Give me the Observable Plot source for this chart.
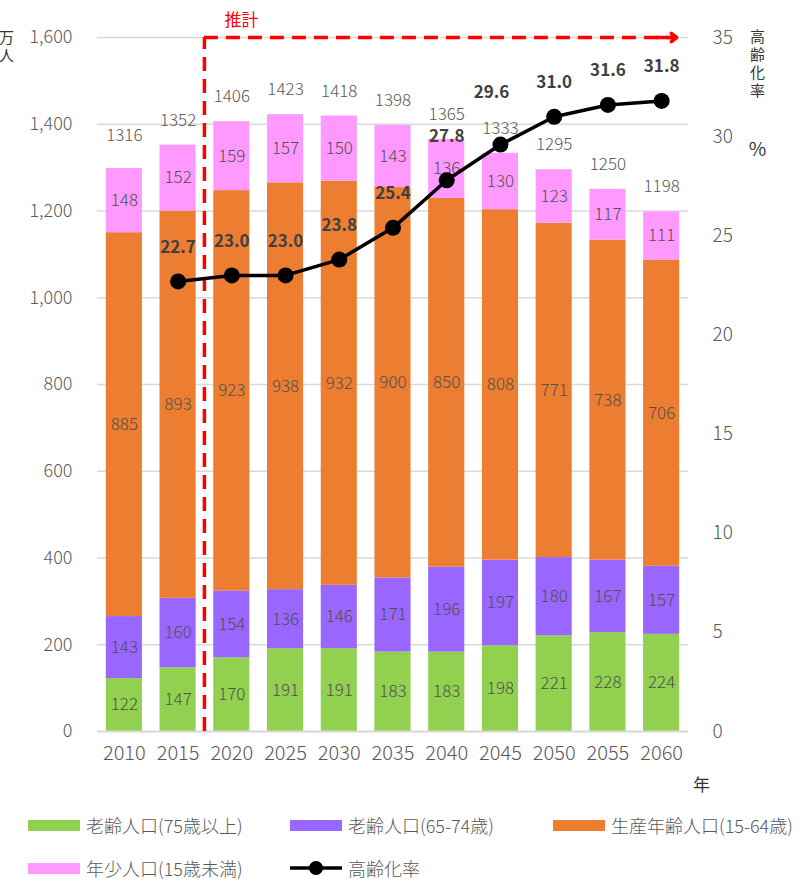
<!DOCTYPE html>
<html><head><meta charset="utf-8">
<script src="https://cdn.jsdelivr.net/npm/d3@7"></script>
<script src="https://cdn.jsdelivr.net/npm/@observablehq/plot@0.6"></script>
<style>
body{margin:0;background:#fff;font-family:"Noto Sans CJK JP","Noto Sans",sans-serif;}
#legend{position:relative;width:804px;height:81px;color:#595959;font-size:18px;font-weight:300;}
.li{position:absolute;display:flex;align-items:center;white-space:nowrap;line-height:22px;}
.sw{width:52px;height:11px;margin-right:6px;}
</style></head>
<body>
<div id="chart"></div>
<div id="legend"></div>
<script>
const years = [2010, 2015, 2020, 2025, 2030, 2035, 2040, 2045, 2050, 2055, 2060];
const old75 = [122, 147, 170, 191, 191, 183, 183, 198, 221, 228, 224];
const old65 = [143, 160, 154, 136, 146, 171, 196, 197, 180, 167, 157];
const working = [885, 893, 923, 938, 932, 900, 850, 808, 771, 738, 706];
const young = [148, 152, 159, 157, 150, 143, 136, 130, 123, 117, 111];
const totals = [1316, 1352, 1406, 1423, 1418, 1398, 1365, 1333, 1295, 1250, 1198];
const ratioYears = [2015, 2020, 2025, 2030, 2035, 2040, 2045, 2050, 2055, 2060];
const ratios = [22.7, 23.0, 23.0, 23.8, 25.4, 27.8, 29.6, 31.0, 31.6, 31.8];
const seriesNames = ["老齢人口(75歳以上)", "老齢人口(65-74歳)", "生産年齢人口(15-64歳)", "年少人口(15歳未満)"];
const seriesColors = ["#92d050", "#9966ff", "#ed7d31", "#ff99ff"];
const lineName = "高齢化率";
const rightTitleChars = ["高", "齢", "化", "率"];
const leftTitleChars = ["万", "人"];
const leftTicks = [0, 200, 400, 600, 800, 1000, 1200, 1400, 1600];
const rightTicks = [0, 5, 10, 15, 20, 25, 30, 35];
const leftMax = 1600, rightMax = 35;

const series = [old75, old65, working, young];
const rows = [];
years.forEach((yr, i) => {
  let base = 0;
  series.forEach((s, k) => {
    rows.push({year: yr, name: seriesNames[k], color: seriesColors[k], value: s[i], y1: base, y2: base + s[i]});
    base += s[i];
  });
});
const totalRows = years.map((yr, i) => ({year: yr, total: totals[i]}));
const ratioRows = ratioYears.map((yr, i) => ({year: yr, r: ratios[i], y: ratios[i] * leftMax / rightMax}));
const half = 1.68;
const gray = "#595959";
const font = "Noto Sans CJK JP";
const lw = 300;

const chart = Plot.plot({
  width: 804, height: 800,
  marginLeft: 97, marginRight: 116, marginTop: 37, marginBottom: 69,
  style: {fontFamily: font, fontSize: "17px", color: gray, background: "#fff", overflow: "visible"},
  x: {type: "linear", domain: [2007.5, 2062.5]},
  y: {domain: [0, leftMax]},
  marks: [
    Plot.gridY(leftTicks, {stroke: "#d9d9d9", strokeOpacity: 1, strokeWidth: 1.5}),
    Plot.axisY(leftTicks, {anchor: "left", tickSize: 0, tickPadding: 25, tickFormat: d3.format(","), fill: gray, label: null, fontSize: 18, fontWeight: lw}),
    Plot.axisY(rightTicks.map(v => v * leftMax / rightMax), {anchor: "right", tickSize: 0, tickPadding: 24, textAnchor: "start", tickFormat: d => String(Math.round(d * rightMax / leftMax)), fill: gray, label: null, fontSize: 19, fontWeight: lw}),
    Plot.axisX(years, {tickSize: 0, tickPadding: 14, tickFormat: d => String(d), fill: gray, label: null, fontSize: 20, fontWeight: lw}),
    Plot.rect(rows, {x1: d => d.year - half, x2: d => d.year + half, y1: "y1", y2: "y2", fill: "color"}),
    Plot.ruleY([0], {stroke: "#d9d9d9", strokeWidth: 2}),
    Plot.text(rows, {x: "year", y: d => (d.y1 + d.y2) / 2, text: d => String(d.value), fill: "#505050", fontSize: 17, fontWeight: lw}),
    Plot.text(totalRows, {x: "year", y: "total", text: d => String(d.total), dy: -25, fill: gray, fontSize: 17, fontWeight: lw}),
    Plot.ruleX([2017.45], {y1: 0, y2: leftMax, stroke: "#ff0000", strokeWidth: 3.5, strokeDasharray: "14,8"}),
    Plot.ruleY([leftMax], {x1: 2017.45, x2: 2061, stroke: "#ff0000", strokeWidth: 3.5, strokeDasharray: "14,8"}),
    Plot.arrow([{a: 2059.5, b: 2061.4}], {x1: "a", x2: "b", y1: leftMax, y2: leftMax, stroke: "#ff0000", strokeWidth: 3.5, headLength: 18, headAngle: 75}),
    Plot.text(["推計"], {x: 2020.9, y: leftMax + 38, text: d => d, fill: "#ff0000", fontSize: 17}),
    Plot.line(ratioRows, {x: "year", y: "y", stroke: "#000", strokeWidth: 3.5}),
    Plot.dot(ratioRows, {x: "year", y: "y", r: 8, fill: "#000"}),
    Plot.text(ratioRows.filter(d => d.year !== 2040 && d.year !== 2045), {x: "year", y: "y", text: d => d.r.toFixed(1), dy: -34, fontWeight: "bold", fill: "#404040", fontSize: 17}),
    Plot.text(ratioRows.filter(d => d.year === 2040), {x: "year", y: "y", text: d => d.r.toFixed(1), dy: -44, fontWeight: "bold", fill: "#404040", fontSize: 17}),
    Plot.text(ratioRows.filter(d => d.year === 2045), {x: "year", y: "y", text: d => d.r.toFixed(1), dx: -9, dy: -52, fontWeight: "bold", fill: "#404040", fontSize: 17}),
    ...rightTitleChars.map((c, i) => Plot.text([c], {frameAnchor: "top-right", textAnchor: "middle", dx: 69, dy: -6 + i * 18, text: d => d, fill: "#333", fontSize: 15})),
    Plot.text(["%"], {frameAnchor: "top-right", textAnchor: "middle", dx: 69, dy: 105, text: d => d, fill: "#333", fontSize: 19}),
    Plot.text(["年"], {frameAnchor: "bottom-right", textAnchor: "middle", dx: 13, dy: 59, text: d => d, fill: "#333", fontSize: 17}),
    ...leftTitleChars.map((c, i) => Plot.text([c], {frameAnchor: "top-left", textAnchor: "middle", dx: -91, dy: -5 + i * 18, text: d => d, fill: "#333", fontSize: 15}))
  ]
});
document.getElementById("chart").appendChild(chart);

const legend = document.getElementById("legend");
const items = [
  {x: 28, y: 25, name: seriesNames[0], color: seriesColors[0]},
  {x: 290, y: 25, name: seriesNames[1], color: seriesColors[1]},
  {x: 553, y: 25, name: seriesNames[2], color: seriesColors[2]},
  {x: 28, y: 68, name: seriesNames[3], color: seriesColors[3]},
  {x: 290, y: 68, name: lineName, line: true}
];
items.forEach(it => {
  const d = document.createElement("div");
  d.className = "li";
  d.style.left = it.x + "px";
  d.style.top = (it.y - 11) + "px";
  d.style.height = "22px";
  if (it.line) {
    d.innerHTML = '<svg width="52" height="16" style="margin-right:6px"><line x1="0" y1="8" x2="52" y2="8" stroke="#000" stroke-width="3.5"/><circle cx="26" cy="8" r="7" fill="#000"/></svg>';
  } else {
    const s = document.createElement("div");
    s.className = "sw";
    s.style.background = it.color;
    d.appendChild(s);
  }
  const t = document.createElement("span");
  t.textContent = it.name;
  d.appendChild(t);
  legend.appendChild(d);
});
</script>
</body></html>
